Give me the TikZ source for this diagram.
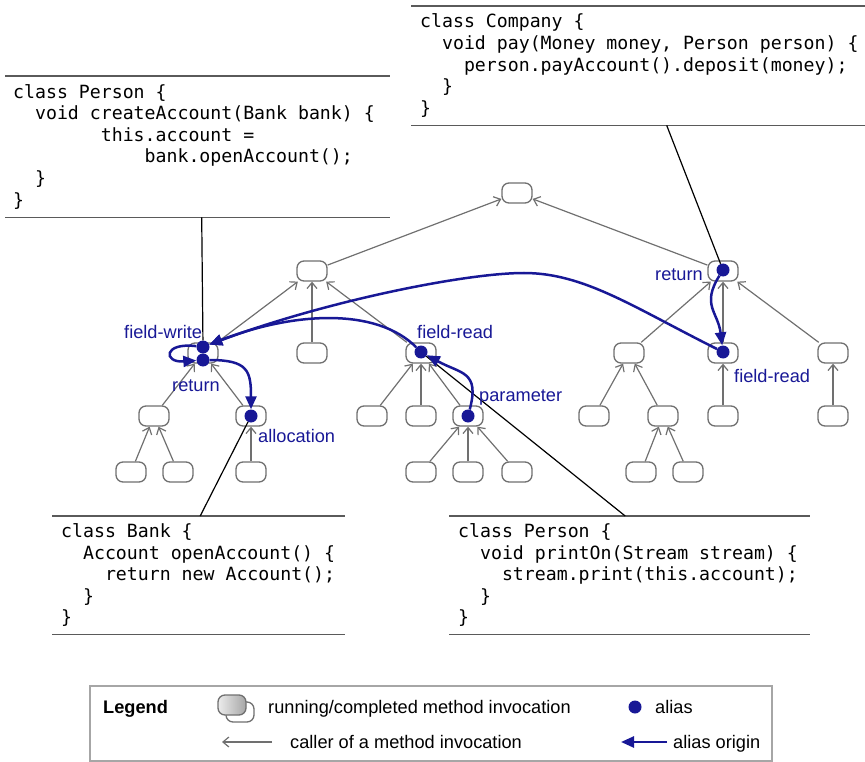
\documentclass[tikz,border=0pt]{standalone}
\usepackage{fontspec}
\setmainfont{Liberation Sans}
\newfontfamily\codefont{DejaVu Sans Mono}
\newcommand{\codesize}{\codefont\fontsize{18.2}{21.6}\selectfont}
\usetikzlibrary{arrows.meta}
\definecolor{aliasblue}{RGB}{24,24,150}
\definecolor{edgegray}{RGB}{112,112,112}
\definecolor{rulegray}{RGB}{90,90,90}

\begin{document}
\begin{tikzpicture}[x=1pt,y=-1pt,
  inv/.style={draw=edgegray,line width=1.3pt,rounded corners=7pt,fill=white,
    minimum width=30pt,minimum height=20pt,inner sep=0pt},
  alias/.style={circle,fill=aliasblue,minimum size=13pt,inner sep=0pt},
  call/.style={draw=edgegray,line width=1.2pt,-{Straight Barb[length=6pt,width=10pt]}},
  origin/.style={draw=aliasblue,line width=2.5pt,-{Triangle[length=13pt,width=11pt]}},
  code/.style={draw=black,line width=1.2pt},
  rule/.style={draw=rulegray,line width=1.5pt},
  codebox/.style={font=\codesize,align=flush left,anchor=north west,inner sep=0pt},
  lbl/.style={font=\fontsize{18.2}{21.6}\selectfont,text=aliasblue,inner sep=0pt,anchor=base west},
  txt/.style={font=\fontsize{18.2}{21.6}\selectfont,inner sep=0pt,anchor=base west}]
\useasboundingbox (0,0) rectangle (865,762);

% code fragments
\node[codebox,text width=445pt,minimum height=119pt] (company) at (420,6)
  {class Company \{\\\phantom{xx}void pay(Money money, Person person) \{\\
   \phantom{xxxx}person.payAccount().deposit(money);\\\phantom{xx}\}\\\}};
\node[codebox,text width=377pt,minimum height=141pt] (person) at (13,76)
  {class Person \{\\\phantom{xx}void createAccount(Bank bank) \{\\
   \phantom{xxxxxxxx}this.account =\\\phantom{xxxxxxxxxxxx}bank.openAccount();\\
   \phantom{xx}\}\\\}};
\node[codebox,text width=284pt,minimum height=118pt] (bank) at (61,516)
  {class Bank \{\\\phantom{xx}Account openAccount() \{\\
   \phantom{xxxx}return new Account();\\\phantom{xx}\}\\\}};
\node[codebox,text width=352pt,minimum height=118pt] (printer) at (458,516)
  {class Person \{\\\phantom{xx}void printOn(Stream stream) \{\\
   \phantom{xxxx}stream.print(this.account);\\\phantom{xx}\}\\\}};
\draw[rule] ([xshift=-9pt]company.north west) -- (company.north east)
  ([xshift=-9pt]company.south west) -- (company.south east);
\draw[rule] ([xshift=-8pt]person.north west) -- (person.north east)
  ([xshift=-8pt]person.south west) -- (person.south east);
\draw[rule] ([xshift=-9pt]bank.north west) -- (bank.north east)
  ([xshift=-9pt]bank.south west) -- (bank.south east);
\draw[rule] ([xshift=-9pt]printer.north west) -- (printer.north east)
  ([xshift=-9pt]printer.south west) -- (printer.south east);

% invocation tree
\node[inv] (root) at (517,193) {};
\node[inv] (inv1) at (312,271) {}; \node[inv] (inv2) at (723,271) {};
\node[inv] (inv11) at (203,353) {}; \node[inv] (inv12) at (312,353) {};
\node[inv] (inv13) at (421,353) {}; \node[inv] (inv21) at (629,353) {};
\node[inv] (inv22) at (723,353) {}; \node[inv] (inv23) at (833,353) {};
\node[inv] (inv111) at (154,416) {}; \node[inv] (inv112) at (251,416) {};
\node[inv] (inv131) at (372,416) {}; \node[inv] (inv132) at (421,416) {};
\node[inv] (inv133) at (468,416) {}; \node[inv] (inv211) at (594,416) {};
\node[inv] (inv212) at (663,416) {}; \node[inv] (inv221) at (723,416) {};
\node[inv] (inv231) at (833,416) {};
\node[inv] (inv1111) at (131,472) {}; \node[inv] (inv1112) at (178,472) {};
\node[inv] (inv1121) at (251,472) {}; \node[inv] (inv1331) at (421,472) {};
\node[inv] (inv1332) at (468,472) {}; \node[inv] (inv1333) at (517,472) {};
\node[inv] (inv2121) at (641,472) {}; \node[inv] (inv2122) at (688,472) {};

\draw[call] (inv1)--(root); \draw[call] (inv2)--(root);
\draw[call] (inv11)--(inv1); \draw[call] (inv12)--(inv1); \draw[call] (inv13)--(inv1);
\draw[call] (inv21)--(inv2); \draw[call] (inv22)--(inv2); \draw[call] (inv23)--(inv2);
\draw[call] (inv111)--(inv11); \draw[call] (inv112)--(inv11);
\draw[call] (inv1111)--(inv111); \draw[call] (inv1112)--(inv111); \draw[call] (inv1121)--(inv112);
\draw[call] (inv131)--(inv13); \draw[call] (inv132)--(inv13); \draw[call] (inv133)--(inv13);
\draw[call] (inv1331)--(inv133); \draw[call] (inv1332)--(inv133); \draw[call] (inv1333)--(inv133);
\draw[call] (inv211)--(inv21); \draw[call] (inv212)--(inv21);
\draw[call] (inv2121)--(inv212); \draw[call] (inv2122)--(inv212);
\draw[call] (inv221)--(inv22); \draw[call] (inv231)--(inv23);

% aliases
\node[alias] (fwrite) at (203,347) {}; \node[alias] (retA) at (203,360) {};
\node[alias] (alloc) at (251,416) {}; \node[alias] (fread) at (421,352) {};
\node[alias] (param) at (468,416) {}; \node[alias] (retB) at (723,270) {};
\node[alias] (freadB) at (723,352) {};

\draw[code] ([xshift=24pt]company.south) -- (retB);
\draw[code] (person.south) -- (fwrite);
\draw[code] ([xshift=-3pt]bank.north) -- (alloc);
\draw[code] ([xshift=-9pt]printer.north) -- (fread);

\draw[origin] (freadB) .. controls +(-90,-45) and +(60,0) .. (524,273)
  .. controls +(-60,0) and +(120,-45) .. (fwrite);
\draw[origin] (fread) .. controls +(-45,-45) and +(90,-35) .. (fwrite);
\draw[origin] (retB) .. controls +(-22,35) and +(-5,-40) .. (freadB);
\draw[origin] (param) .. controls +(12,-45) and +(40,22) .. (fread);
\draw[origin] (fwrite) .. controls +(-40,-5) and +(-40,3) .. (retA);
\draw[origin] (retA) .. controls +(45,0) and +(0,-45) .. (alloc);

\node[lbl] (lfwrite) at (124,338) {field-write};
\node[lbl] (lretA) at (172,391) {return};
\node[lbl] (lalloc) at (258,442) {allocation};
\node[lbl] (lfread) at (417,338) {field-read};
\node[lbl] (lparam) at (479,401) {parameter};
\node[lbl] (lretB) at (655,280) {return};
\node[lbl] (lfreadB) at (734,382) {field-read};

% legend
\node[draw=gray!70,line width=1.2pt,minimum width=682pt,minimum height=75pt,inner sep=0pt]
  (legend) at (431,723.5) {};
\node[txt] (legtitle) at (103,713) {\bfseries Legend};
\node[inv,minimum width=28pt] (legback) at (240,712) {};
\node[inv,minimum width=28pt,left color=gray!15,right color=gray!70] (legfront) at (232,705) {};
\node[txt] (legrun) at (268,713) {running/completed method invocation};
\node[alias] (legdot) at (635,707) {};
\node[txt] (legalias) at (655,713) {alias};
\coordinate (callfrom) at (272,742); \coordinate (callto) at (222,742);
\draw[call] (callfrom) -- (callto);
\node[txt] (legcall) at (290,748) {caller of a method invocation};
\coordinate (originfrom) at (667,742); \coordinate (originto) at (621,742);
\draw[origin] (originfrom) -- (originto);
\node[txt] (legorigin) at (673,748) {alias origin};
\end{tikzpicture}
\end{document}
